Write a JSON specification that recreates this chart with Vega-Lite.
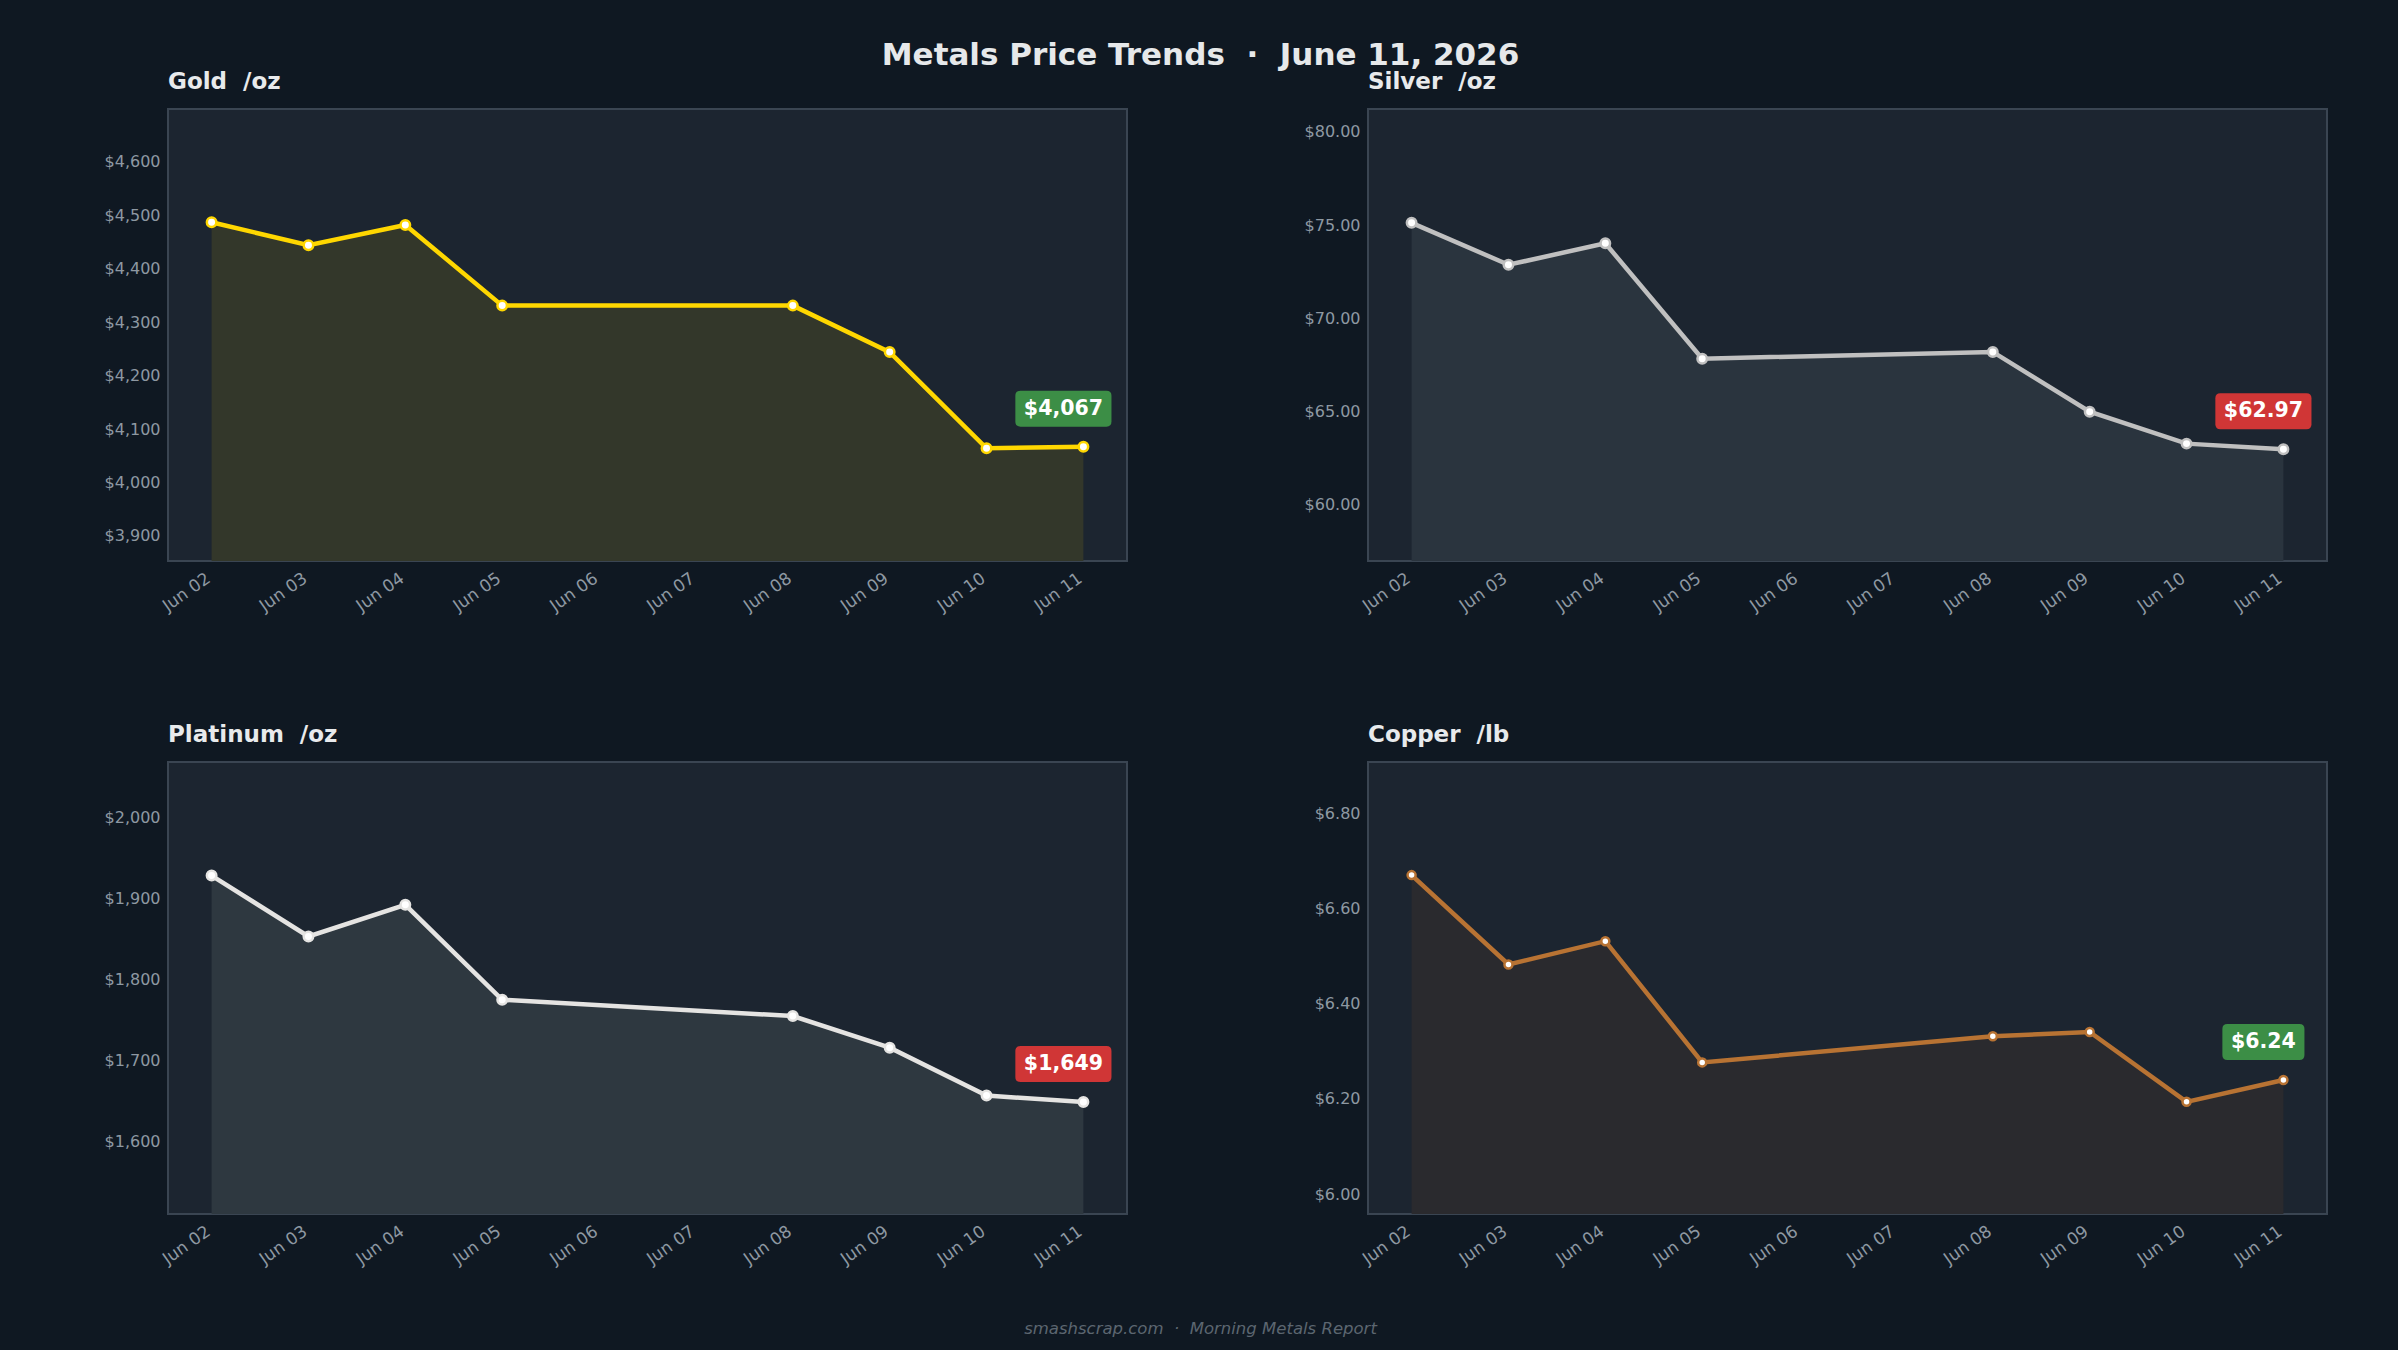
{
  "$schema": "https://vega.github.io/schema/vega-lite/v6.json",
  "background": "#0f1822",
  "padding": {"left": 103, "right": 70, "top": 39, "bottom": 20},
  "datasets": {
    "gold": [
      {"date": "2026-06-02T00:00:00", "price": 4487},
      {"date": "2026-06-03T00:00:00", "price": 4444},
      {"date": "2026-06-04T00:00:00", "price": 4482},
      {"date": "2026-06-05T00:00:00", "price": 4331},
      {"date": "2026-06-08T00:00:00", "price": 4331},
      {"date": "2026-06-09T00:00:00", "price": 4244},
      {"date": "2026-06-10T00:00:00", "price": 4064},
      {"date": "2026-06-11T00:00:00", "price": 4067}
    ],
    "silver": [
      {"date": "2026-06-02T00:00:00", "price": 75.12},
      {"date": "2026-06-03T00:00:00", "price": 72.87},
      {"date": "2026-06-04T00:00:00", "price": 74.02},
      {"date": "2026-06-05T00:00:00", "price": 67.83},
      {"date": "2026-06-08T00:00:00", "price": 68.19},
      {"date": "2026-06-09T00:00:00", "price": 64.98},
      {"date": "2026-06-10T00:00:00", "price": 63.27},
      {"date": "2026-06-11T00:00:00", "price": 62.97}
    ],
    "platinum": [
      {"date": "2026-06-02T00:00:00", "price": 1928},
      {"date": "2026-06-03T00:00:00", "price": 1853},
      {"date": "2026-06-04T00:00:00", "price": 1892},
      {"date": "2026-06-05T00:00:00", "price": 1775},
      {"date": "2026-06-08T00:00:00", "price": 1755},
      {"date": "2026-06-09T00:00:00", "price": 1716},
      {"date": "2026-06-10T00:00:00", "price": 1657},
      {"date": "2026-06-11T00:00:00", "price": 1649}
    ],
    "copper": [
      {"date": "2026-06-02T00:00:00", "price": 6.671},
      {"date": "2026-06-03T00:00:00", "price": 6.483},
      {"date": "2026-06-04T00:00:00", "price": 6.532},
      {"date": "2026-06-05T00:00:00", "price": 6.277},
      {"date": "2026-06-08T00:00:00", "price": 6.332},
      {"date": "2026-06-09T00:00:00", "price": 6.341},
      {"date": "2026-06-10T00:00:00", "price": 6.194},
      {"date": "2026-06-11T00:00:00", "price": 6.24}
    ]
  },
  "title": {
    "text": "smashscrap.com\u00a0\u00a0·\u00a0\u00a0Morning Metals Report",
    "orient": "bottom", "anchor": "middle", "frame": "bounds", "dx": -15,
    "fontSize": 16.5, "fontStyle": "italic", "fontWeight": "normal",
    "color": "#5c6670", "offset": 53
  },
  "vconcat": [
    {
      "title": {
        "text": "Metals Price Trends\u00a0\u00a0·\u00a0\u00a0June 11, 2026",
        "anchor": "middle", "frame": "bounds", "dx": -15, "fontSize": 31, "fontWeight": "bold",
        "color": "#e6e8ea", "offset": -2
      },
      "columns": 2,
      "spacing": {"row": 107, "column": 175},
      "concat": [
        {
          "title": {"text": "Gold\u00a0\u00a0/oz"},
          "width": 959, "height": 452,
          "data": {"name": "gold"},
          "encoding": {
            "x": {"field": "date", "type": "temporal", "title": null,
              "scale": {"domain": [{"year": 2026, "month": 6, "date": 1, "hours": 13, "minutes": 12}, {"year": 2026, "month": 6, "date": 11, "hours": 10, "minutes": 48}]},
              "axis": {"format": "%b %d", "tickCount": {"interval": "day", "step": 1}}},
            "y": {"field": "price", "type": "quantitative", "title": null,
              "scale": {"domain": [3853, 4699], "zero": false},
              "axis": {"format": "$,.0f", "values": [3900, 4000, 4100, 4200, 4300, 4400, 4500, 4600]}}
          },
          "layer": [
            {"mark": {"type": "area", "fill": "#33372a", "opacity": 1, "clip": true}},
            {"mark": {"type": "line", "stroke": "#FFD700", "strokeWidth": 4.5, "clip": true}},
            {"mark": {"type": "point", "filled": true, "fill": "#ffffff", "stroke": "#FFD700", "strokeWidth": 2.5, "size": 90, "opacity": 1}},
            {"transform": [{"filter": {"field": "date", "timeUnit": "yearmonthdate", "equal": {"year": 2026, "month": 6, "date": 11}}}],
             "mark": {"type": "point", "shape": "M-2.39,-1L2.39,-1Q2.67,-1,2.67,-0.72L2.67,0.72Q2.67,1,2.39,1L-2.39,1Q-2.67,1,-2.67,0.72L-2.67,-0.72Q-2.67,-1,-2.39,-1Z", "size": 1296, "filled": true, "fill": "#3c8e46", "opacity": 1, "strokeWidth": 0, "xOffset": -20, "yOffset": -38}},
            {"transform": [{"filter": {"field": "date", "timeUnit": "yearmonthdate", "equal": {"year": 2026, "month": 6, "date": 11}}}],
             "mark": {"type": "text", "color": "#ffffff", "fontSize": 20.5, "fontWeight": "bold", "align": "center", "baseline": "middle", "xOffset": -20, "yOffset": -38},
             "encoding": {"text": {"field": "price", "type": "quantitative", "format": "$,.0f"}}}
          ]
        },
        {
          "title": {"text": "Silver\u00a0\u00a0/oz"},
          "width": 959, "height": 452,
          "data": {"name": "silver"},
          "encoding": {
            "x": {"field": "date", "type": "temporal", "title": null,
              "scale": {"domain": [{"year": 2026, "month": 6, "date": 1, "hours": 13, "minutes": 12}, {"year": 2026, "month": 6, "date": 11, "hours": 10, "minutes": 48}]},
              "axis": {"format": "%b %d", "tickCount": {"interval": "day", "step": 1}}},
            "y": {"field": "price", "type": "quantitative", "title": null,
              "scale": {"domain": [56.97, 81.23], "zero": false},
              "axis": {"format": "$.2f", "values": [60, 65, 70, 75, 80]}}
          },
          "layer": [
            {"mark": {"type": "area", "fill": "#2a343e", "opacity": 1, "clip": true}},
            {"mark": {"type": "line", "stroke": "#c0c0c0", "strokeWidth": 4.5, "clip": true}},
            {"mark": {"type": "point", "filled": true, "fill": "#ffffff", "stroke": "#c0c0c0", "strokeWidth": 2.5, "size": 90, "opacity": 1}},
            {"transform": [{"filter": {"field": "date", "timeUnit": "yearmonthdate", "equal": {"year": 2026, "month": 6, "date": 11}}}],
             "mark": {"type": "point", "shape": "M-2.39,-1L2.39,-1Q2.67,-1,2.67,-0.72L2.67,0.72Q2.67,1,2.39,1L-2.39,1Q-2.67,1,-2.67,0.72L-2.67,-0.72Q-2.67,-1,-2.39,-1Z", "size": 1296, "filled": true, "fill": "#d03636", "opacity": 1, "strokeWidth": 0, "xOffset": -20, "yOffset": -38}},
            {"transform": [{"filter": {"field": "date", "timeUnit": "yearmonthdate", "equal": {"year": 2026, "month": 6, "date": 11}}}],
             "mark": {"type": "text", "color": "#ffffff", "fontSize": 20.5, "fontWeight": "bold", "align": "center", "baseline": "middle", "xOffset": -20, "yOffset": -38},
             "encoding": {"text": {"field": "price", "type": "quantitative", "format": "$.2f"}}}
          ]
        },
        {
          "title": {"text": "Platinum\u00a0\u00a0/oz"},
          "width": 959, "height": 452,
          "data": {"name": "platinum"},
          "encoding": {
            "x": {"field": "date", "type": "temporal", "title": null,
              "scale": {"domain": [{"year": 2026, "month": 6, "date": 1, "hours": 13, "minutes": 12}, {"year": 2026, "month": 6, "date": 11, "hours": 10, "minutes": 48}]},
              "axis": {"format": "%b %d", "tickCount": {"interval": "day", "step": 1}}},
            "y": {"field": "price", "type": "quantitative", "title": null,
              "scale": {"domain": [1511, 2068], "zero": false},
              "axis": {"format": "$,.0f", "values": [1600, 1700, 1800, 1900, 2000]}}
          },
          "layer": [
            {"mark": {"type": "area", "fill": "#2e3840", "opacity": 1, "clip": true}},
            {"mark": {"type": "line", "stroke": "#e5e4e2", "strokeWidth": 4.5, "clip": true}},
            {"mark": {"type": "point", "filled": true, "fill": "#ffffff", "stroke": "#e5e4e2", "strokeWidth": 2.5, "size": 90, "opacity": 1}},
            {"transform": [{"filter": {"field": "date", "timeUnit": "yearmonthdate", "equal": {"year": 2026, "month": 6, "date": 11}}}],
             "mark": {"type": "point", "shape": "M-2.39,-1L2.39,-1Q2.67,-1,2.67,-0.72L2.67,0.72Q2.67,1,2.39,1L-2.39,1Q-2.67,1,-2.67,0.72L-2.67,-0.72Q-2.67,-1,-2.39,-1Z", "size": 1296, "filled": true, "fill": "#d03636", "opacity": 1, "strokeWidth": 0, "xOffset": -20, "yOffset": -38}},
            {"transform": [{"filter": {"field": "date", "timeUnit": "yearmonthdate", "equal": {"year": 2026, "month": 6, "date": 11}}}],
             "mark": {"type": "text", "color": "#ffffff", "fontSize": 20.5, "fontWeight": "bold", "align": "center", "baseline": "middle", "xOffset": -20, "yOffset": -38},
             "encoding": {"text": {"field": "price", "type": "quantitative", "format": "$,.0f"}}}
          ]
        },
        {
          "title": {"text": "Copper\u00a0\u00a0/lb"},
          "width": 959, "height": 452,
          "data": {"name": "copper"},
          "encoding": {
            "x": {"field": "date", "type": "temporal", "title": null,
              "scale": {"domain": [{"year": 2026, "month": 6, "date": 1, "hours": 13, "minutes": 12}, {"year": 2026, "month": 6, "date": 11, "hours": 10, "minutes": 48}]},
              "axis": {"format": "%b %d", "tickCount": {"interval": "day", "step": 1}}},
            "y": {"field": "price", "type": "quantitative", "title": null,
              "scale": {"domain": [5.958, 6.909], "zero": false},
              "axis": {"format": "$.2f", "values": [6.0, 6.2, 6.4, 6.6, 6.8]}}
          },
          "layer": [
            {"mark": {"type": "area", "fill": "#2a2a2e", "opacity": 1, "clip": true}},
            {"mark": {"type": "line", "stroke": "#b87333", "strokeWidth": 4.5, "clip": true}},
            {"mark": {"type": "point", "filled": true, "fill": "#ffffff", "stroke": "#b87333", "strokeWidth": 2.5, "size": 64, "opacity": 1}},
            {"transform": [{"filter": {"field": "date", "timeUnit": "yearmonthdate", "equal": {"year": 2026, "month": 6, "date": 11}}}],
             "mark": {"type": "point", "shape": "M-2.0,-1L2.0,-1Q2.28,-1,2.28,-0.72L2.28,0.72Q2.28,1,2.0,1L-2.0,1Q-2.28,1,-2.28,0.72L-2.28,-0.72Q-2.28,-1,-2.0,-1Z", "size": 1296, "filled": true, "fill": "#3c8e46", "opacity": 1, "strokeWidth": 0, "xOffset": -20, "yOffset": -38}},
            {"transform": [{"filter": {"field": "date", "timeUnit": "yearmonthdate", "equal": {"year": 2026, "month": 6, "date": 11}}}],
             "mark": {"type": "text", "color": "#ffffff", "fontSize": 20.5, "fontWeight": "bold", "align": "center", "baseline": "middle", "xOffset": -20, "yOffset": -38},
             "encoding": {"text": {"field": "price", "type": "quantitative", "format": "$.2f"}}}
          ]
        }
      ]
    }
  ],
  "config": {
    "font": "DejaVu Sans",
    "view": {"fill": "#1c2530", "stroke": "#3a4552", "strokeWidth": 2},
    "axis": {"grid": false, "domain": false, "ticks": false, "labelColor": "#8e98a2", "labelFontSize": 16, "labelPadding": 8, "labelFont": "DejaVu Sans"},
    "axisX": {"labelAngle": -35, "labelPadding": 9, "labelFontSize": 17, "labelOffset": -8},
    "title": {"color": "#e8eaec", "fontSize": 23, "fontWeight": "bold", "anchor": "start", "frame": "group", "offset": 15.5, "font": "DejaVu Sans"}
  }
}
